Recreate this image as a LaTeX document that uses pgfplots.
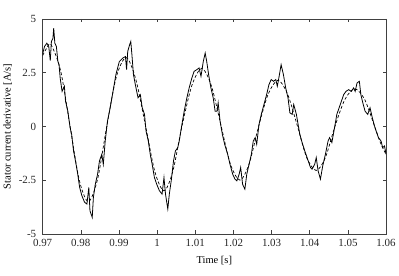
\documentclass[border=0pt]{standalone}
\usepackage{pgfplots}
\pgfplotsset{compat=1.18}
\usepackage{fontspec}
\setmainfont{Liberation Serif}

\begin{document}
\begin{tikzpicture}
\begin{axis}[
  scale only axis,
  width=345pt, height=216pt,
  xmin=0.97, xmax=1.06,
  ymin=-5, ymax=5,
  xtick={0.97,0.98,...,1.06},
  ytick={-5,-2.5,0,2.5,5},
  xticklabels={0.97,0.98,0.99,1,1.01,1.02,1.03,1.04,1.05,1.06},
  yticklabels={-5,-2.5,0,2.5,5},
  tick align=inside,
  major tick length=3.5pt,
  axis line style={black!75, line width=0.5pt},
  tick style={black!75, line width=0.5pt},
  every tick label/.append style={font=\fontsize{11}{12}\selectfont, text=black!85},
  xticklabel style={yshift=-2pt},
  yticklabel style={xshift=-3pt},
  label style={font=\fontsize{10.5}{12}\selectfont},
  xlabel={Time [s]},
  ylabel={Stator current derivative [A/s]},
  xlabel style={yshift=-3pt},
  /pgf/number format/assume math mode=true,
  clip=true,
]
% measured signal (values in units of 1e4 A/s)
\addplot[black, line width=0.8pt] coordinates {
(0.9700,3.37) (0.9705,3.72) (0.9711,3.87) (0.9716,3.72) (0.9720,3.06)
(0.9723,3.95) (0.9727,4.10) (0.9729,4.57) (0.9732,3.87) (0.9736,3.72)
(0.9740,3.02) (0.9743,2.87) (0.9746,2.25) (0.9751,1.63) (0.9757,1.87)
(0.9760,1.17) (0.9766,0.71) (0.9772,-0.06) (0.9776,-0.37) (0.9781,-1.14)
(0.9786,-1.60) (0.9792,-2.22) (0.9797,-2.84) (0.9803,-3.23) (0.9810,-3.53)
(0.9816,-3.61) (0.9821,-2.84) (0.9824,-3.92) (0.9830,-4.23) (0.9833,-3.30)
(0.9838,-2.69) (0.9844,-2.22) (0.9849,-1.60) (0.9855,-1.30) (0.9859,-1.76)
(0.9864,-0.68) (0.9870,0.25) (0.9877,0.87) (0.9883,1.48) (0.9892,2.41)
(0.9901,3.02) (0.9910,3.18) (0.9917,3.25) (0.9920,2.64) (0.9923,3.49)
(0.9928,3.80) (0.9931,3.95) (0.9934,3.33) (0.9938,2.41) (0.9943,1.94)
(0.9950,1.33) (0.9956,1.48) (0.9961,0.87) (0.9967,0.56) (0.9971,-0.22)
(0.9977,-0.68) (0.9982,-1.30) (0.9987,-1.76) (0.9993,-2.38) (0.9999,-2.69)
(1.0006,-2.99) (1.0013,-3.15) (1.0018,-2.38) (1.0022,-3.15) (1.0028,-3.84)
(1.0032,-3.15) (1.0037,-2.53) (1.0043,-1.60) (1.0048,-1.14) (1.0054,-0.99)
(1.0058,-0.68) (1.0065,0.09) (1.0071,0.71) (1.0078,1.33) (1.0084,1.79)
(1.0091,2.25) (1.0097,2.56) (1.0104,2.64) (1.0110,2.72) (1.0115,2.33)
(1.0121,3.02) (1.0126,3.41) (1.0130,3.02) (1.0135,2.41) (1.0141,1.79)
(1.0147,1.33) (1.0152,0.71) (1.0157,0.71) (1.0160,1.10) (1.0165,0.25)
(1.0171,-0.37) (1.0177,-0.83) (1.0185,-1.30) (1.0191,-1.76) (1.0198,-2.22)
(1.0204,-2.45) (1.0209,-2.53) (1.0215,-2.22) (1.0219,-1.91) (1.0224,-2.69)
(1.0230,-2.92) (1.0235,-2.22) (1.0241,-1.76) (1.0247,-1.30) (1.0252,-0.68)
(1.0257,-0.52) (1.0261,-0.83) (1.0267,0.09) (1.0273,0.56) (1.0280,1.02)
(1.0287,1.48) (1.0293,1.94) (1.0299,2.18) (1.0305,2.10) (1.0311,2.18)
(1.0315,1.87) (1.0319,2.25) (1.0325,2.87) (1.0331,2.41) (1.0337,1.79)
(1.0343,1.33) (1.0348,0.63) (1.0354,0.56) (1.0358,1.02) (1.0365,0.56)
(1.0374,-0.37) (1.0380,-0.75) (1.0387,-1.14) (1.0393,-1.45) (1.0402,-1.91)
(1.0406,-1.99) (1.0413,-1.76) (1.0417,-1.45) (1.0422,-2.07) (1.0428,-2.45)
(1.0434,-1.84) (1.0441,-1.30) (1.0448,-0.68) (1.0452,-0.52) (1.0458,-0.75)
(1.0465,-0.06) (1.0471,0.56) (1.0480,1.02) (1.0489,1.48) (1.0495,1.63)
(1.0502,1.71) (1.0509,1.63) (1.0515,1.79) (1.0519,1.63) (1.0524,2.02)
(1.0530,2.10) (1.0534,1.48) (1.0539,1.10) (1.0545,0.71) (1.0552,0.56)
(1.0558,0.87) (1.0564,0.40) (1.0571,-0.06) (1.0580,-0.52) (1.0587,-0.68)
(1.0591,-0.99) (1.0596,-0.91) (1.0600,-1.30)
};
% estimated signal
\addplot[black, smooth, line width=0.7pt, dash pattern=on 3pt off 2pt] coordinates {
(0.9700,3.30) (0.9711,3.65) (0.9722,3.80) (0.9747,2.60) (0.9772,0.00)
(0.9796,-2.50) (0.9820,-3.50) (0.9844,-2.45) (0.9868,0.00) (0.9893,2.30)
(0.9919,3.20) (0.9944,2.20) (0.9970,0.00) (0.9994,-2.10) (1.0018,-3.00)
(1.0041,-2.10) (1.0065,0.00) (1.0091,1.90) (1.0117,2.70) (1.0142,1.90)
(1.0168,0.00) (1.0192,-1.75) (1.0217,-2.50) (1.0241,-1.75) (1.0266,0.00)
(1.0291,1.50) (1.0317,2.15) (1.0342,1.50) (1.0368,0.00) (1.0392,-1.45)
(1.0417,-2.05) (1.0441,-1.45) (1.0466,0.00) (1.0492,1.25) (1.0518,1.75)
(1.0544,1.25) (1.0570,0.00) (1.0585,-0.75) (1.0600,-1.30)
};
\node[anchor=south west, font=\fontsize{8}{9}\selectfont, text=black!85, inner sep=1pt]
  at (rel axis cs:0,1) {$\times10^{4}$};
\end{axis}
\path (current axis.south west) ++(-41pt,-42pt);
\path (current axis.north east) ++(13pt,19pt);
\end{tikzpicture}
\end{document}
